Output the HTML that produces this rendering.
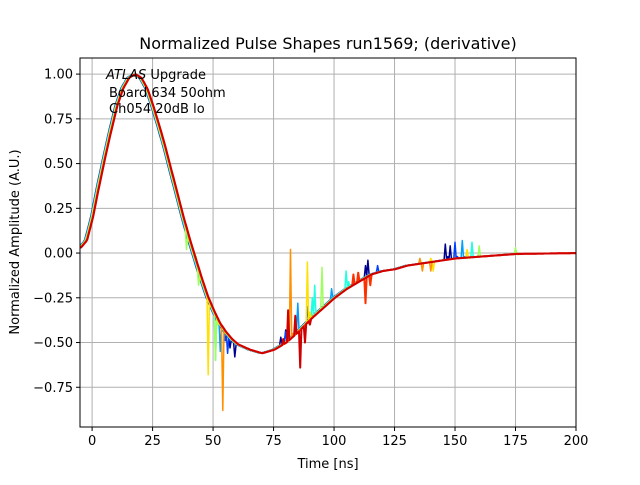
<!DOCTYPE html>
<html><head><meta charset="utf-8"><style>
body{margin:0;background:#fff;font-family:"Liberation Sans","DejaVu Sans",sans-serif}
svg text{font-family:"DejaVu Sans","Liberation Sans",sans-serif}
</style></head><body>
<svg id="chart" width="640" height="480" xmlns="http://www.w3.org/2000/svg">
<rect width="640" height="480" fill="#fff"/>
<g id="grid"></g>
<g id="series"></g>
<rect x="80" y="58" width="496" height="369" fill="none" stroke="#000" stroke-width="1"/>
<g id="ticks"></g>
<text x="328" y="49" text-anchor="middle" font-size="16">Normalized Pulse Shapes run1569; (derivative)</text>
<text x="328" y="468" text-anchor="middle" font-size="13">Time [ns]</text>
<text transform="translate(19,242) rotate(-90)" text-anchor="middle" font-size="13">Normalized Amplitude (A.U.)</text>
<g font-size="13">
<text x="106" y="79"><tspan font-style="italic">ATLAS</tspan> Upgrade</text>
<text x="109" y="97">Board 634 50ohm</text>
<text x="109" y="113">Ch054 20dB lo</text>
</g>
</svg>
<script>
const baseTimes=[-5,-2.5,0,2.5,5,7.5,10,12.5,15,17.5,20,22.5,25,27.5,30,32.5,35,37.5,40,42.5,45,47.5,50,52.5,55,57.5,60,65,70,75,80,85,90,95,100,105,110,115,120,125,130,140,150,160,175,200];
const baseValues=[0.03,0.07,0.2,0.37,0.53,0.68,0.82,0.92,0.98,1.0,0.98,0.92,0.82,0.71,0.59,0.46,0.33,0.2,0.08,-0.03,-0.14,-0.24,-0.32,-0.39,-0.44,-0.48,-0.51,-0.54,-0.56,-0.54,-0.50,-0.44,-0.37,-0.31,-0.25,-0.20,-0.16,-0.12,-0.10,-0.09,-0.07,-0.05,-0.03,-0.02,-0.005,0.0];
const seriesColors=["#00008f","#0040ff","#00a0ff","#20ffe0","#9fff60","#ffe000","#ff9000","#ff3000","#d00000"];
const seriesShift=[-0.6,-0.5,-0.4,-0.3,-0.2,0,0.2,0.3,0.4];
const spikeTimes=[[57,59,78,80,113,114,146,147,148],[55,56,80,81,88,89,118,150,151],[52,53,84,85,99,100,153,154],[50,51,91,92,105,106,157,158],[38,39,43,44,51,52,95,96,160,161,175,176],[47.5,48,89,90,140,141,155,156],[53.5,54,82,83,135.5,136.5,140],[108,110,113,115],[79,81,84,86,88,90]];
const spikeValues=[[-0.53,-0.58,-0.47,-0.43,-0.07,-0.04,0.05,-0.02,0.04],[-0.49,-0.56,-0.44,-0.36,-0.40,-0.30,-0.07,0.06,-0.02],[-0.40,-0.55,-0.40,-0.28,-0.20,-0.25,0.07,-0.02],[-0.33,-0.60,-0.25,-0.18,-0.10,-0.16,0.06,-0.02],[0.20,0.02,-0.02,-0.18,-0.60,-0.40,-0.08,-0.30,0.04,-0.02,0.03,-0.01],[-0.24,-0.68,-0.05,-0.33,-0.03,-0.10,0.02,-0.03],[-0.42,-0.88,0.02,-0.45,-0.03,-0.10,-0.10],[-0.12,-0.11,-0.28,-0.18],[-0.48,-0.32,-0.35,-0.64,-0.50,-0.40]];
const xTicks=[0,25,50,75,100,125,150,175,200];
const yTicks=[-0.75,-0.5,-0.25,0,0.25,0.5,0.75,1.0];
const yTickLabels=["−0.75","−0.50","−0.25","0.00","0.25","0.50","0.75","1.00"];
const X0=80,X1=576,Y0=58,Y1=427,xmin=-5,xmax=200,ymin=-0.972,ymax=1.09;
const sx=t=>X0+(t-xmin)/(xmax-xmin)*(X1-X0);
const sy=v=>Y1-(v-ymin)/(ymax-ymin)*(Y1-Y0);
const NS="http://www.w3.org/2000/svg";
const grid=document.getElementById('grid'),ticks=document.getElementById('ticks'),sg=document.getElementById('series');
function mk(tag,at,parent){const e=document.createElementNS(NS,tag);for(const k in at)e.setAttribute(k,at[k]);parent.appendChild(e);return e;}
xTicks.forEach(t=>{const x=sx(t);
 const g=mk('line',{x1:x,x2:x,y1:Y0,y2:Y1,stroke:'#b0b0b0','stroke-width':1},grid);
 
 
 const k=mk('line',{x1:x,x2:x,y1:Y1,y2:Y1+4,stroke:'#000'},ticks);
 
 
 const l=mk('text',{x:x,y:Y1+18,'text-anchor':'middle','font-size':13},ticks);l.textContent=t;
 
 
});
yTicks.forEach((v,i)=>{const y=sy(v);
 const g=mk('line',{x1:X0,x2:X1,y1:y,y2:y,stroke:'#b0b0b0','stroke-width':1},grid);
 
 
 const k=mk('line',{x1:X0-4,x2:X0,y1:y,y2:y,stroke:'#000'},ticks);
 
 
 const l=mk('text',{x:X0-7,y:y+4.5,'text-anchor':'end','font-size':13},ticks);l.textContent=yTickLabels[i];
 
 
});
function baseAt(t){t=Math.max(-5,Math.min(200,t));for(let i=0;i<baseTimes.length-1;i++){if(t<=baseTimes[i+1]){const f=(t-baseTimes[i])/(baseTimes[i+1]-baseTimes[i]);return baseValues[i]+f*(baseValues[i+1]-baseValues[i]);}}return baseValues[baseValues.length-1];}
seriesColors.forEach((c,s)=>{
 const step=0.5;let pts=[];
 for(let t=-5;t<=200.001;t+=step){
   let near=false;spikeTimes[s].forEach(st=>{if(Math.abs(st-t)<step*0.75)near=true;});
   if(!near)pts.push([t,baseAt(t-seriesShift[s])]);
 }
 spikeTimes[s].forEach((t,j)=>pts.push([t,spikeValues[s][j]]));
 pts.sort((a,b)=>a[0]-b[0]);
 const p=mk('polyline',{points:pts.map(q=>sx(q[0]).toFixed(1)+','+sy(q[1]).toFixed(1)).join(' '),fill:'none',stroke:c,'stroke-width':s>=7?2:1.5,'stroke-linejoin':'round'},sg);
 
 
});
</script>
</body></html>
